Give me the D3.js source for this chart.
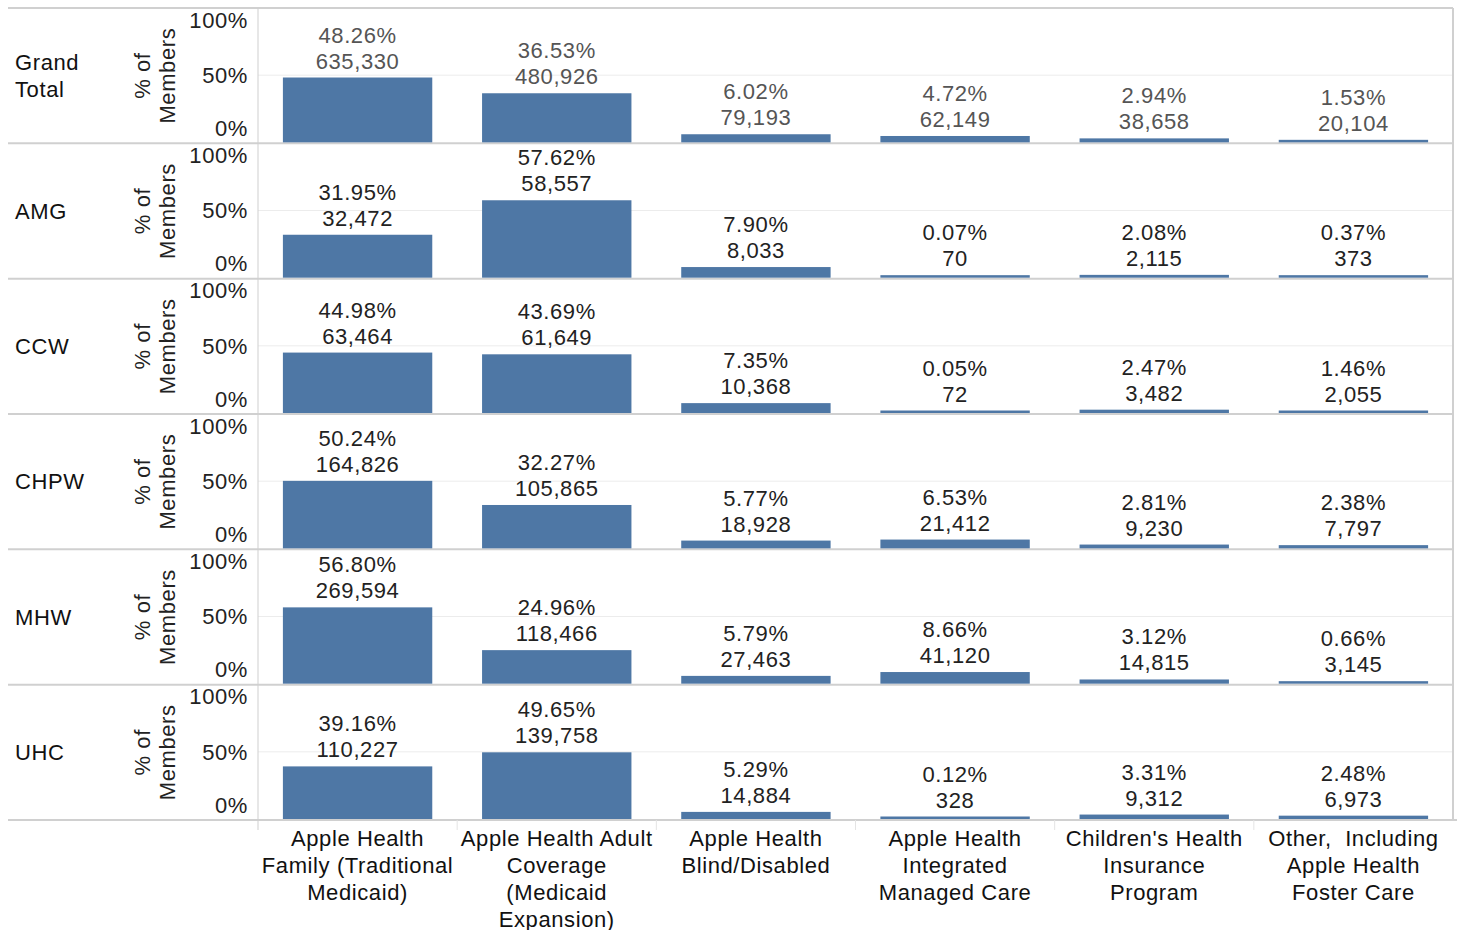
<!DOCTYPE html>
<html>
<head>
<meta charset="utf-8">
<script src="https://cdn.jsdelivr.net/npm/d3@7"></script>
<style>
  body { margin: 0; background: #fff; }
  svg text { font-family: "Liberation Sans", Arial, sans-serif; white-space: pre; letter-spacing: 0.6px; }
</style>
</head>
<body>
<div id="chart"></div>
<script>
// rows (plans) and columns (program categories)
var plans = ['Grand Total', 'AMG', 'CCW', 'CHPW', 'MHW', 'UHC'];
var planLabels = [['Grand', 'Total'], ['AMG'], ['CCW'], ['CHPW'], ['MHW'], ['UHC']];
var categories = [
  ['Apple Health', 'Family (Traditional', 'Medicaid)'],
  ['Apple Health Adult', 'Coverage', '(Medicaid', 'Expansion)'],
  ['Apple Health', 'Blind/Disabled'],
  ['Apple Health', 'Integrated', 'Managed Care'],
  ["Children's Health", 'Insurance', 'Program'],
  ['Other,  Including', 'Apple Health', 'Foster Care']
];
var yTicks = [0, 0.5, 1];

// percent of members, one array per plan
var pctGrandTotal = [48.26, 36.53, 6.02, 4.72, 2.94, 1.53];
var pctAMG = [31.95, 57.62, 7.90, 0.07, 2.08, 0.37];
var pctCCW = [44.98, 43.69, 7.35, 0.05, 2.47, 1.46];
var pctCHPW = [50.24, 32.27, 5.77, 6.53, 2.81, 2.38];
var pctMHW = [56.80, 24.96, 5.79, 8.66, 3.12, 0.66];
var pctUHC = [39.16, 49.65, 5.29, 0.12, 3.31, 2.48];

// member counts
var cntGrandTotal = [635330, 480926, 79193, 62149, 38658, 20104];
var cntAMG = [32472, 58557, 8033, 70, 2115, 373];
var cntCCW = [63464, 61649, 10368, 72, 3482, 2055];
var cntCHPW = [164826, 105865, 18928, 21412, 9230, 7797];
var cntMHW = [269594, 118466, 27463, 41120, 14815, 3145];
var cntUHC = [110227, 139758, 14884, 328, 9312, 6973];

var pcts = [pctGrandTotal, pctAMG, pctCCW, pctCHPW, pctMHW, pctUHC];
var counts = [cntGrandTotal, cntAMG, cntCCW, cntCHPW, cntMHW, cntUHC];

var W = 1457, H = 930;
var leftX = 8, plotLeft = 258, plotRight = 1453, topY = 8, bottomY = 820;
var fs = 22;

var svg = d3.select('#chart').append('svg')
  .attr('width', W).attr('height', H);

var x = d3.scaleBand()
  .domain(d3.range(categories.length))
  .range([plotLeft, plotRight])
  .paddingInner(0.25).paddingOuter(0.125);

var row = d3.scaleBand()
  .domain(plans)
  .range([topY, bottomY]);

var fmt = d3.format(',');

plans.forEach(function(plan, i) {
  var y0 = row(plan), h = row.bandwidth();
  var y = d3.scaleLinear().domain([0, 1]).range([y0 + h - 1, y0]);
  var g = svg.append('g');
  var textColor = i === 0 ? '#555' : '#222';

  // 50% gridline
  g.append('line')
    .attr('x1', plotLeft).attr('x2', plotRight)
    .attr('y1', y(0.5)).attr('y2', y(0.5))
    .attr('stroke', '#ececec').attr('stroke-width', 1);

  // row separator
  g.append('line')
    .attr('x1', leftX).attr('x2', plotRight)
    .attr('y1', y0 + h).attr('y2', y0 + h)
    .attr('stroke', '#d0d0d0').attr('stroke-width', 2);

  // tick labels
  g.selectAll('.tick').data(yTicks).enter().append('text')
    .attr('x', 248)
    .attr('y', function(d) { return d === 1 ? y0 + 12 : d === 0 ? y0 + h - 15 : y(d); })
    .attr('dy', '0.35em')
    .attr('text-anchor', 'end')
    .attr('font-size', fs)
    .attr('fill', '#222')
    .text(function(d) { return d3.format('.0%')(d); });

  // axis title
  var cy = y0 + h / 2;
  g.append('text')
    .attr('transform', 'translate(150,' + cy + ') rotate(-90)')
    .attr('text-anchor', 'middle')
    .attr('font-size', fs).attr('fill', '#222')
    .selectAll('tspan').data(['% of', 'Members']).enter().append('tspan')
    .attr('x', 0).attr('dy', function(d, k) { return k === 0 ? 0 : 25; })
    .text(function(d) { return d; });

  // row label
  g.append('text')
    .attr('font-size', fs).attr('fill', '#111')
    .selectAll('tspan').data(planLabels[i]).enter().append('tspan')
    .attr('x', 15)
    .attr('y', function(d, k) { return cy - (planLabels[i].length - 1) * 13.5 + k * 27; })
    .attr('dy', '0.35em')
    .text(function(d) { return d; });

  // bars
  g.selectAll('rect').data(pcts[i]).enter().append('rect')
    .attr('x', function(d, j) { return x(j); })
    .attr('width', x.bandwidth())
    .attr('y', function(d) { return Math.min(y(d / 100), y(0) - 2.5); })
    .attr('height', function(d) { return Math.max(y(0) - y(d / 100), 2.5); })
    .attr('fill', '#4e77a5');

  // value labels
  var lab = g.selectAll('.lab').data(pcts[i]).enter().append('text')
    .attr('text-anchor', 'middle')
    .attr('font-size', fs)
    .attr('fill', textColor);
  lab.append('tspan')
    .attr('x', function(d, j) { return x(j) + x.bandwidth() / 2; })
    .attr('y', function(d) { return Math.min(y(d / 100), y(0) - 2.5) - 35; })
    .text(function(d) { return d.toFixed(2) + '%'; });
  lab.append('tspan')
    .attr('x', function(d, j) { return x(j) + x.bandwidth() / 2; })
    .attr('y', function(d) { return Math.min(y(d / 100), y(0) - 2.5) - 9; })
    .text(function(d, j) { return fmt(counts[i][j]); });
});

// frame lines
svg.append('line')
  .attr('x1', leftX).attr('x2', plotRight).attr('y1', topY).attr('y2', topY)
  .attr('stroke', '#d0d0d0').attr('stroke-width', 2);
svg.append('line')
  .attr('x1', plotRight).attr('x2', plotRight).attr('y1', topY).attr('y2', bottomY)
  .attr('stroke', '#d0d0d0').attr('stroke-width', 2);
svg.append('line')
  .attr('x1', plotLeft).attr('x2', plotLeft).attr('y1', topY).attr('y2', bottomY + 10)
  .attr('stroke', '#cfcfcf').attr('stroke-width', 1);
svg.append('line')
  .attr('x1', plotRight).attr('x2', W).attr('y1', bottomY).attr('y2', bottomY)
  .attr('stroke', '#d0d0d0').attr('stroke-width', 2);

// category separators below the axis
svg.selectAll('.sep').data(d3.range(1, categories.length)).enter().append('line')
  .attr('x1', function(j) { return x(j) - x.step() * x.paddingInner() / 2; })
  .attr('x2', function(j) { return x(j) - x.step() * x.paddingInner() / 2; })
  .attr('y1', bottomY).attr('y2', bottomY + 10)
  .attr('stroke', '#e4e4e4').attr('stroke-width', 1);

// category labels
svg.selectAll('.cat').data(categories).enter().append('text')
  .attr('text-anchor', 'middle')
  .attr('font-size', fs).attr('fill', '#111')
  .each(function(lines, j) {
    d3.select(this).selectAll('tspan').data(lines).enter().append('tspan')
      .attr('x', x(j) + x.bandwidth() / 2)
      .attr('y', function(d, k) { return 846 + k * 27; })
      .text(function(d) { return d; });
  });
</script>
</body>
</html>
